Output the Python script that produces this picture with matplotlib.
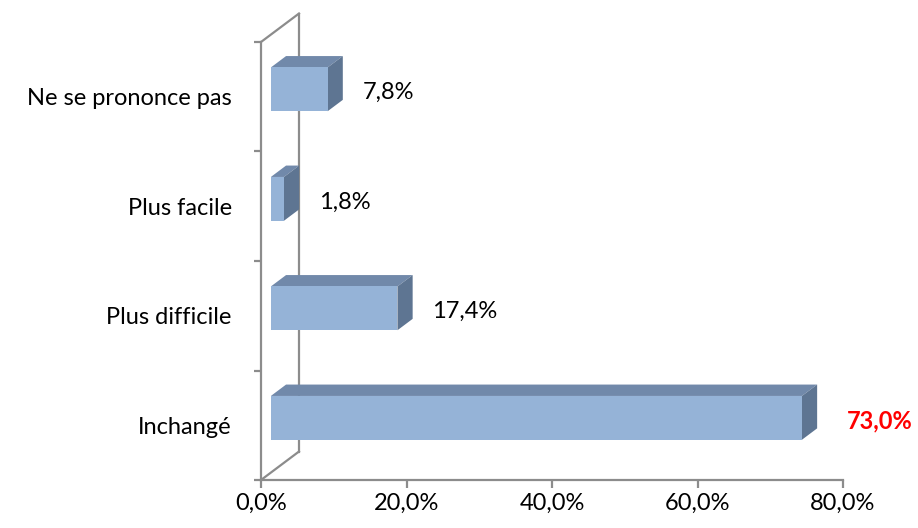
import matplotlib.pyplot as plt
from matplotlib.patches import Polygon

categories = ["Inchangé", "Plus difficile", "Plus facile", "Ne se prononce pas"]
valeurs = [73.0, 17.4, 1.8, 7.8]
labels_valeurs = ["73,0%", "17,4%", "1,8%", "7,8%"]
ticks_x = [0, 20, 40, 60, 80]
labels_x = ["0,0%", "20,0%", "40,0%", "60,0%", "80,0%"]

# effet 3D : decalage de la profondeur (en unites de donnees)
DX, DY = 5.22, 0.26
z0, z1 = 0.26, 0.66
hauteur = 0.40

c_face = "#95B3D7"
c_dessus = "#7189AA"
c_cote = "#5E7592"
c_axe = "#8C8C8C"
taille = 17

plt.rcParams['font.family'] = ['Lato', 'DejaVu Sans']

fig = plt.figure(figsize=(9.18, 5.28), dpi=100)
ax = fig.add_axes([261/918, 48/528, 582/918, 438/528])
ax.set_xlim(0, 80)
ax.set_ylim(0, 4)

# murs
n = len(categories)
ax.plot([DX, DX], [DY, n + DY], color=c_axe, lw=1.6, clip_on=False, zorder=1)
ax.plot([0, DX], [n, n + DY], color=c_axe, lw=1.6, clip_on=False, zorder=1)
ax.plot([0, DX], [0, DY], color=c_axe, lw=1.6, clip_on=False, zorder=1)

# barres
for i, v in enumerate(valeurs):
    y0 = i + 0.5 - hauteur / 2
    y1 = y0 + hauteur
    f = lambda x, y, z: (x + z * DX, y + z * DY)
    face = [f(0, y0, z0), f(v, y0, z0), f(v, y1, z0), f(0, y1, z0)]
    dessus = [f(0, y1, z0), f(v, y1, z0), f(v, y1, z1), f(0, y1, z1)]
    cote = [f(v, y0, z0), f(v, y0, z1), f(v, y1, z1), f(v, y1, z0)]
    ax.add_patch(Polygon(dessus, closed=True, fc=c_dessus, ec="none", zorder=3))
    ax.add_patch(Polygon(cote, closed=True, fc=c_cote, ec="none", zorder=3))
    ax.add_patch(Polygon(face, closed=True, fc=c_face, ec="none", zorder=4))
    ytxt = i + 0.5 + z0 * DY - 0.03
    if i == 0:
        ax.text(v + z1 * DX + 4.1, ytxt, labels_valeurs[i], color="red",
                fontsize=taille, fontweight="bold", va="center", ha="left")
    else:
        ax.text(v + z1 * DX + 2.7, ytxt, labels_valeurs[i], color="black",
                fontsize=taille, va="center", ha="left")

# axes
for s in ["top", "right"]:
    ax.spines[s].set_visible(False)
for s in ["bottom", "left"]:
    ax.spines[s].set_color(c_axe)
    ax.spines[s].set_linewidth(1.6)
ax.set_xticks(ticks_x)
ax.set_xticklabels(labels_x, fontsize=taille)
ax.set_yticks(range(n + 1))
ax.set_yticklabels([])
ax.set_yticks([i + 0.5 for i in range(n)], minor=True)
ax.set_yticklabels(categories, minor=True, fontsize=taille)
ax.tick_params(axis="x", length=6, width=1.6, color=c_axe, pad=3)
ax.tick_params(axis="y", which="major", length=5, width=1.6, color=c_axe)
ax.tick_params(axis="y", which="minor", length=0, pad=21)

fig.savefig("out.png", dpi=100)
